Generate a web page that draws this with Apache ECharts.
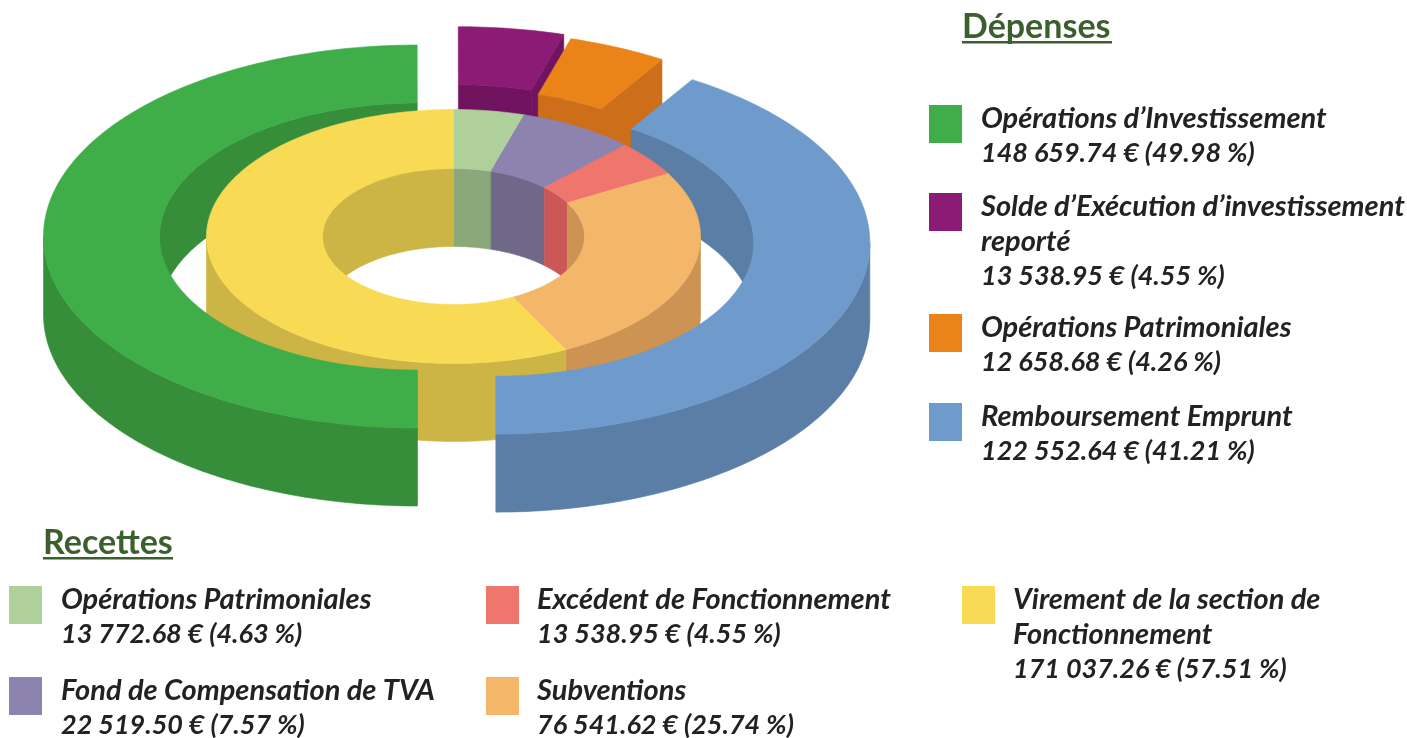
<!DOCTYPE html>
<html>
<head>
<meta charset="utf-8">
<title>Dépenses et recettes</title>
<script src="https://cdn.jsdelivr.net/npm/echarts@6/dist/echarts.min.js"></script>
<style>
  html, body { margin: 0; padding: 0; background: #fff; }
  #chart { width: 1407px; height: 738px; }
</style>
</head>
<body>
<div id="chart"></div>
<script>
// data
const depenseLabels = ['Opérations d’Investissement', 'Solde d’Exécution d’investissement\nreporté', 'Opérations Patrimoniales', 'Remboursement Emprunt'];
const depenseValues = [148659.74, 13538.95, 12658.68, 122552.64];
const depensePercents = [49.98, 4.55, 4.26, 41.21];

const recetteLabels = ['Opérations Patrimoniales', 'Fond de Compensation de TVA', 'Excédent de Fonctionnement', 'Subventions', 'Virement de la section de\nFonctionnement'];
const recetteValues = [13772.68, 22519.50, 13538.95, 76541.62, 171037.26];
const recettePercents = [4.63, 7.57, 4.55, 25.74, 57.51];

// colours
const depenseColors = ['#3fae49', '#8c1b75', '#ea8419', '#6f9bcc'];
const depenseWalls = ['#368e3a', '#711460', '#cc6e1a', '#5b7ea7'];
const recetteColors = ['#b0d09b', '#8c83ae', '#ee766d', '#f4b76a', '#f8da55'];
const recetteWalls = ['#8aa879', '#6f6889', '#cb5757', '#cc9353', '#ccb544'];

// layout of the fake 3D rings
const cx = 453.5, cy = 236.5, depth = 78;
const outerRing = { rx: 374, ry: 191.5, irx: 258, iry: 133.5 };
const innerRing = { rx: 247, ry: 127, irx: 131, iry: 68 };
const depenseExplode = [36, 36, 30, 44];
const depenseStart = 180; // degrees clockwise from the top
const recetteStart = 0;

function sectors(values, start) {
  const total = values.reduce((a, b) => a + b, 0);
  let sum = 0;
  return values.map((v) => {
    const a0 = echarts.number.linearMap(sum, [0, total], [start, start + 360]);
    sum += v;
    const a1 = echarts.number.linearMap(sum, [0, total], [start, start + 360]);
    return [v, a0, a1];
  });
}

function pt(c, rx, ry, deg, dy) {
  const r = deg * Math.PI / 180;
  return [c[0] + rx * Math.sin(r), c[1] - ry * Math.cos(r) + (dy || 0)];
}

function arc(c, rx, ry, a0, a1, dy) {
  const pts = [];
  const n = Math.max(2, Math.ceil(Math.abs(a1 - a0)));
  for (let i = 0; i <= n; i++) pts.push(pt(c, rx, ry, a0 + (a1 - a0) * i / n, dy));
  return pts;
}

function poly(points, color) {
  return {
    type: 'polygon',
    shape: { points: points },
    style: { fill: color, stroke: color, lineWidth: 0.6 },
    silent: true
  };
}

// wall of an ellipse edge, limited to the part that faces the viewer
function walls(c, rx, ry, a0, a1, from, color) {
  const out = [];
  for (let k = -1; k <= 2; k++) {
    const lo = Math.max(a0, from + 360 * k);
    const hi = Math.min(a1, from + 180 + 360 * k);
    if (lo < hi) {
      out.push(poly(arc(c, rx, ry, lo, hi).concat(arc(c, rx, ry, hi, lo, depth)), color));
    }
  }
  return out;
}

function ringSeries(name, ring, values, start, colors, wallColors, explode, show, faces, z) {
  return {
    type: 'custom',
    name: name,
    coordinateSystem: 'none',
    z: z,
    silent: true,
    data: sectors(values, start),
    renderItem: function (params, api) {
      const i = params.dataIndex;
      if (show.indexOf(i) < 0) return { type: 'group', children: [] };
      const a0 = api.value(1), a1 = api.value(2);
      const mid = (a0 + a1) / 2 * Math.PI / 180;
      const d = explode ? explode[i] : 0;
      const c = [cx + d * Math.sin(mid), cy - d * Math.cos(mid) * ring.ry / ring.rx];
      const kids = [];
      if (faces.indexOf('hole') >= 0) {
        kids.push(...walls(c, ring.irx, ring.iry, a0, a1, -90, wallColors[i]));
      }
      if (faces.indexOf('side') >= 0) {
        kids.push(...walls(c, ring.rx, ring.ry, a0, a1, 90, wallColors[i]));
      }
      if (faces.indexOf('end') >= 0 && Math.sin(a1 * Math.PI / 180) > 0) {
        const o = pt(c, ring.rx, ring.ry, a1), n = pt(c, ring.irx, ring.iry, a1);
        kids.push(poly([o, n, [n[0], n[1] + depth], [o[0], o[1] + depth]], wallColors[i]));
      }
      if (faces.indexOf('top') >= 0) {
        kids.push(poly(arc(c, ring.rx, ring.ry, a0, a1).concat(arc(c, ring.irx, ring.iry, a1, a0)), colors[i]));
      }
      return { type: 'group', children: kids };
    }
  };
}

function money(v) {
  const parts = v.toFixed(2).split('.');
  return parts[0].replace(/\B(?=(\d{3})+$)/g, ' ') + '.' + parts[1] + ' €';
}

const legendRich = {
  l: { font: 'italic bold 29px Lato', lineHeight: 35, fill: '#222222' },
  n: { font: 'italic bold 27px Lato', lineHeight: 35, fill: '#222222' }
};
const headFont = 'bold 34px Lato';

function legendEntry(x, textX, y, color, label, value, percent) {
  const lines = label.split('\n').map((s) => '{l|' + s + '}');
  lines.push('{n|' + money(value) + ' (' + percent.toFixed(2) + ' %)}');
  return [
    { type: 'rect', left: x, top: y, shape: { x: 0, y: 0, width: 33, height: 38 }, style: { fill: color } },
    {
      type: 'text', x: textX, y: y - 4,
      style: { text: lines.join('\n'), rich: legendRich, verticalAlign: 'top' }
    }
  ];
}

function heading(x, y, text, width) {
  return [
    { type: 'text', x: x, y: y + 5, style: { text: text, font: headFont, fill: '#3c5f2e', verticalAlign: 'top' } },
    { type: 'rect', left: x, top: y + 36, shape: { x: 0, y: 0, width: width, height: 2.5 }, style: { fill: '#3c5f2e' } }
  ];
}

const depenseRows = [105, 193, 314, 403];
const recetteSlots = [[9, 61, 586], [9, 61, 677], [486, 537, 586], [486, 537, 677], [962, 1013, 586]];

const graphics = [
  ...heading(962, 5, 'Dépenses', 150),
  ...heading(43, 521, 'Recettes', 130)
];
depenseLabels.forEach((l, i) => {
  graphics.push(...legendEntry(929, 981, depenseRows[i], depenseColors[i], l, depenseValues[i], depensePercents[i]));
});
recetteLabels.forEach((l, i) => {
  const s = recetteSlots[i];
  graphics.push(...legendEntry(s[0], s[1], s[2], recetteColors[i], l, recetteValues[i], recettePercents[i]));
});

const chart = echarts.init(document.getElementById('chart'), null, { renderer: 'canvas' });
chart.setOption({
  animation: false,
  backgroundColor: '#ffffff',
  series: [
    // purple and orange sit behind everything
    ringSeries('Dépenses arrière', outerRing, depenseValues, depenseStart, depenseColors, depenseWalls, depenseExplode, [1, 2], ['hole', 'end', 'top'], 1),
    ringSeries('Dépenses parois', outerRing, depenseValues, depenseStart, depenseColors, depenseWalls, depenseExplode, [0, 3], ['hole'], 2),
    ringSeries('Recettes parois', innerRing, recetteValues, recetteStart, recetteColors, recetteWalls, null, [0, 1, 2, 3, 4], ['hole', 'side'], 3),
    ringSeries('Recettes', innerRing, recetteValues, recetteStart, recetteColors, recetteWalls, null, [0, 1, 2, 3, 4], ['top'], 4),
    ringSeries('Dépenses', outerRing, depenseValues, depenseStart, depenseColors, depenseWalls, depenseExplode, [0, 3], ['side', 'top'], 5)
  ],
  graphic: { elements: graphics }
});
</script>
</body>
</html>
